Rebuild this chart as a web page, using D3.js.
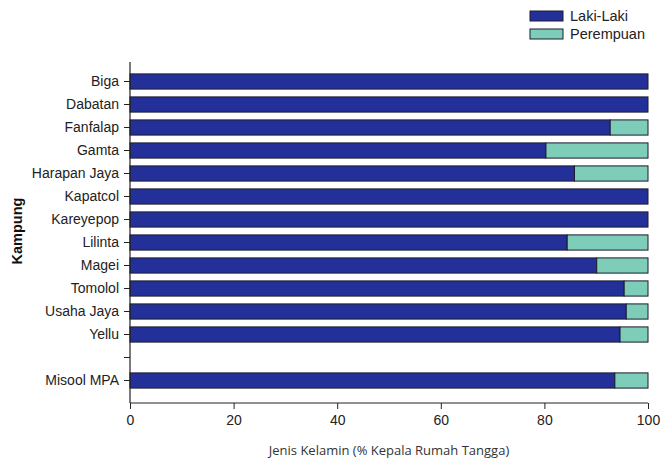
<!DOCTYPE html>
<html><head><meta charset="utf-8">
<script src="https://cdn.jsdelivr.net/npm/d3@7"></script>
<style>body{margin:0;background:#fff}svg{display:block}</style>
</head><body><svg id="c" width="662" height="464"></svg>
<script>
const categories = ["Biga","Dabatan","Fanfalap","Gamta","Harapan Jaya","Kapatcol","Kareyepop","Lilinta","Magei","Tomolol","Usaha Jaya","Yellu","","Misool MPA"];
const lakiLaki = [100,100,92.7,80.3,85.8,100,100,84.4,90.1,95.4,95.8,94.6,null,93.6];
const perempuan = lakiLaki.map(v => v == null ? null : +(100 - v).toFixed(1));
const seriesNames = ["Laki-Laki","Perempuan"];
const colors = ["#24309a","#7dcdb9"];
const xTicks = [0,20,40,60,80,100];

(function(){
const svg = d3.select("#c");
const mLeft = 130, mRight = 648, mTop = 70, mBottom = 392, axisY = 403;
const FONT = "Liberation Sans, Arial, sans-serif";
const x = d3.scaleLinear().domain([0,100]).range([mLeft,mRight]);
const y = d3.scaleBand().domain(categories.map((c,i)=>i)).range([mTop,mBottom]).paddingInner(0.34).paddingOuter(0.17);

const rows = categories.map((c,i)=>({i, c, a: lakiLaki[i], b: perempuan[i]})).filter(d=>d.a!=null);
const g = svg.append("g");
g.selectAll("rect.a").data(rows).join("rect")
  .attr("x", x(0)).attr("y", d=>y(d.i)).attr("width", d=>x(d.a)-x(0)).attr("height", y.bandwidth())
  .attr("fill", colors[0]).attr("stroke","#1b1b2e").attr("stroke-width",1);
g.selectAll("rect.b").data(rows.filter(d=>d.b>0)).join("rect")
  .attr("x", d=>x(d.a)).attr("y", d=>y(d.i)).attr("width", d=>x(100)-x(d.a)).attr("height", y.bandwidth())
  .attr("fill", colors[1]).attr("stroke","#1b1b2e").attr("stroke-width",1);

const yAxis = d3.axisLeft(y).tickSize(6).tickPadding(5).tickFormat(i=>categories[i]);
const ya = svg.append("g").attr("transform",`translate(${mLeft},0)`).call(yAxis);
ya.select(".domain").remove();
ya.append("line").attr("x1",0).attr("x2",0).attr("y1",62).attr("y2",axisY).attr("stroke","#222").attr("stroke-width",1.2);
ya.selectAll(".tick line").attr("stroke","#222");
ya.selectAll("text").attr("font-family",FONT).attr("font-size",14).attr("fill","#222");

const xa = svg.append("g").attr("transform",`translate(0,${axisY})`)
  .call(d3.axisBottom(x).tickValues(xTicks).tickSize(6).tickPadding(6));
xa.select(".domain").attr("stroke","#222").attr("stroke-width",1.2).attr("d",`M${mLeft},0H${mRight}`);
xa.selectAll(".tick line").attr("stroke","#222");
xa.selectAll("text").attr("font-family",FONT).attr("font-size",14).attr("fill","#222");

svg.append("text").attr("x",389).attr("y",455).attr("text-anchor","middle")
  .attr("font-family","Open Sans, sans-serif").attr("font-size",13).attr("fill","#333")
  .text("Jenis Kelamin (% Kepala Rumah Tangga)");
svg.append("text").attr("transform","translate(22,231) rotate(-90)").attr("text-anchor","middle")
  .attr("font-family",FONT).attr("font-size",14.5).attr("font-weight","bold").attr("fill","#111")
  .text("Kampung");

const lg = svg.append("g");
seriesNames.forEach((n,k)=>{
  lg.append("rect").attr("x",530).attr("y",11+k*18).attr("width",33).attr("height",10)
    .attr("fill",colors[k]).attr("stroke","#1b1b2e").attr("stroke-width",1);
  lg.append("text").attr("x",570).attr("y",21+k*18)
    .attr("font-family",FONT).attr("font-size",14.5).attr("fill","#222").text(n);
});
})();
</script></body></html>
